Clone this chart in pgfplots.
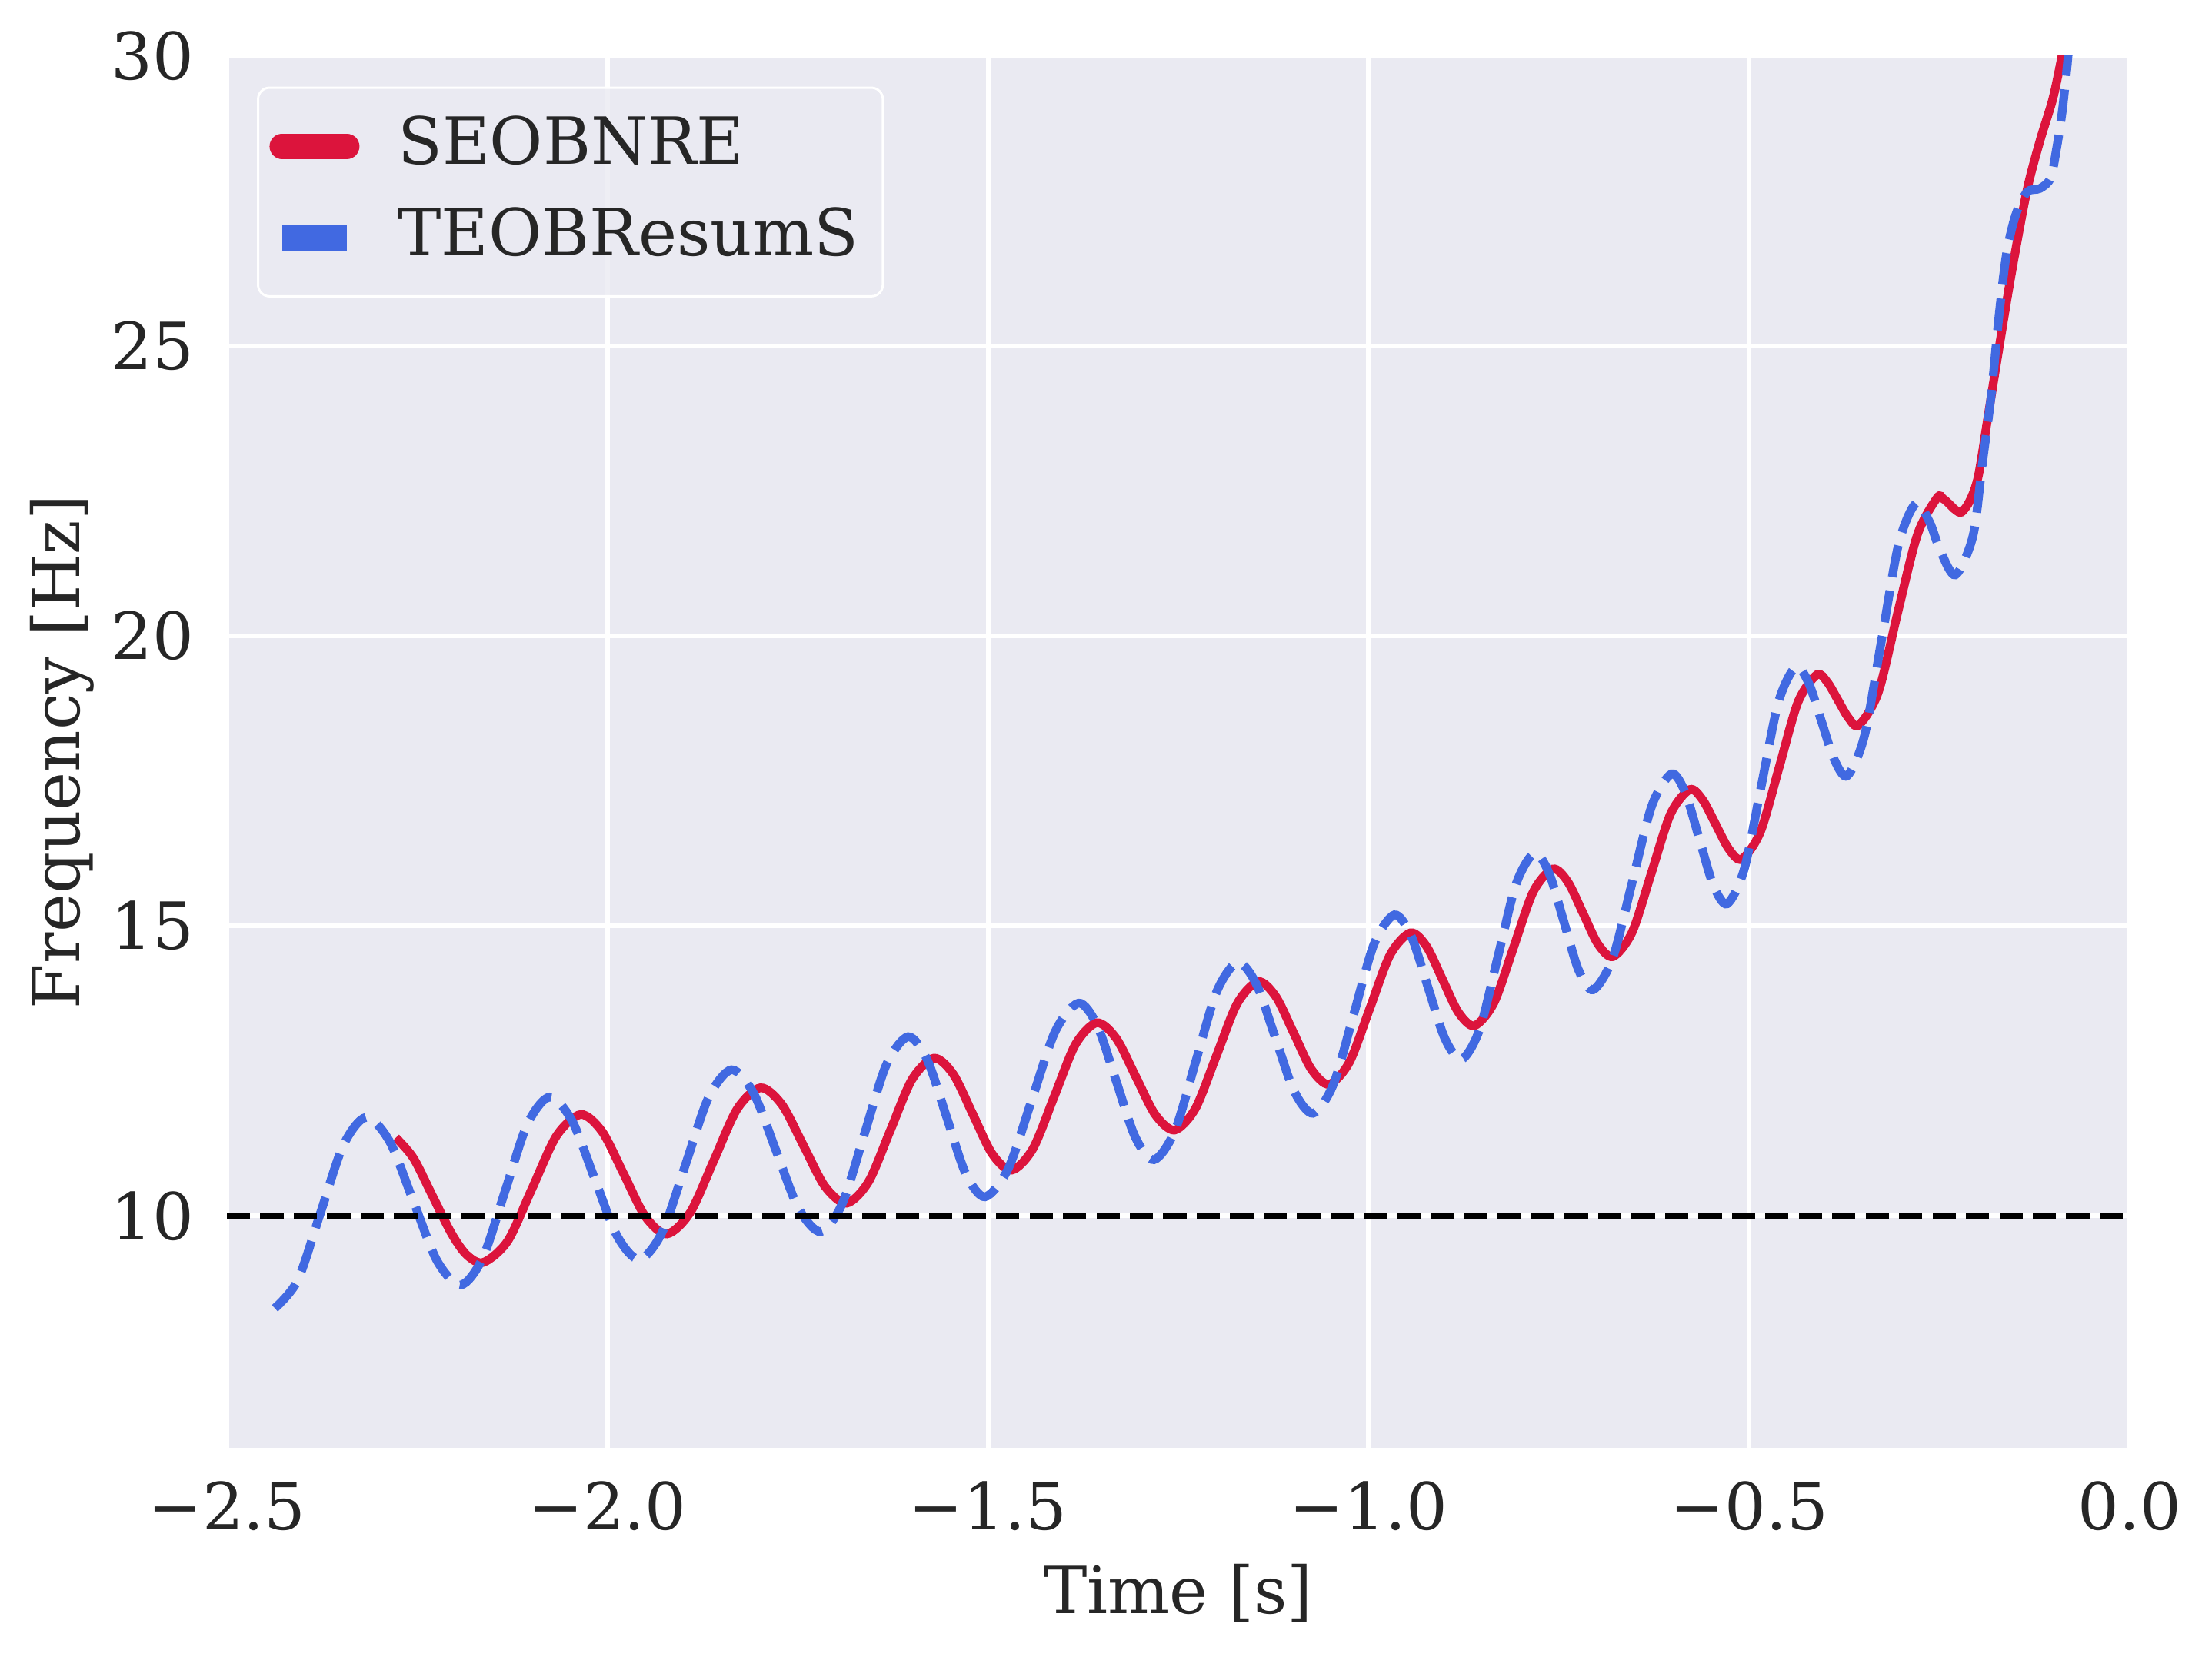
\documentclass[border=0pt]{standalone}
\usepackage{fontspec}
\setmainfont{DejaVu Serif}
\usepackage{pgfplots}
\pgfplotsset{compat=1.18}
\definecolor{bgc}{HTML}{EAEAF2}
\definecolor{txtc}{HTML}{262626}
\definecolor{seob}{HTML}{DC143C}
\definecolor{teob}{HTML}{4169E1}
\begin{document}
\fontsize{17}{20.4}\selectfont
\begin{tikzpicture}
\begin{axis}[
  name=ax,
  scale only axis,
  width=497.3pt, height=364.0pt,
  xmin=-2.5, xmax=0, ymin=6, ymax=30,
  xtick={-2.5,-2,-1.5,-1,-0.5,0},
  xticklabels={−2.5,−2.0,−1.5,−1.0,−0.5,0.0},
  ytick={10,15,20,25,30},
  yticklabels={10,15,20,25,30},
  axis background/.style={fill=bgc},
  axis line style={draw=none},
  major tick length=0pt,
  tick style={draw=none},
  grid=major,
  grid style={white, line width=1.2pt},
  every tick label/.append style={text=txtc, font=\fontsize{17}{20.4}\selectfont},
  xticklabel style={inner sep=0pt, anchor=north, yshift=-8.44pt},
  yticklabel style={inner sep=0pt, anchor=east, xshift=-8.4pt},
  xlabel={Time [s]}, ylabel={Frequency [Hz]},
  label style={text=txtc, font=\fontsize{17}{20.4}\selectfont, inner sep=0pt},
  xlabel style={at={(axis description cs:0.5,-0.1187)}, anchor=base},
  ylabel style={at={(axis description cs:-0.0774,0.5)}, anchor=base},
  legend cell align=left,
  legend style={
    at={(axis description cs:0.01577,0.9778)}, anchor=north west,
    fill=bgc, fill opacity=0.8, text opacity=1, draw=white, line width=0.6pt,
    rounded corners=3pt,
    inner xsep=6.3pt, inner ysep=7.3pt,
    font=\fontsize{17}{20.4}\selectfont, text=txtc,
    nodes={inner sep=0pt, text depth=3.4pt},
    row sep=7.9pt,
    /tikz/every odd column/.append style={column sep=13.3pt},
  },
]
\addplot[seob, line width=2.26pt, smooth,
  legend image code/.code={\draw[overlay, sharp corners, seob, line width=6.6pt, line cap=round, solid, draw opacity=1] (0pt,0pt) -- (16.9pt,0pt); \path[draw=none, fill=none] (0pt,-0.5pt) rectangle (16.9pt,0.5pt);}]
coordinates {
(-2.278,11.35) (-2.255,11.00) (-2.230,10.35) (-2.205,9.70) (-2.185,9.33) (-2.163,9.20)
(-2.131,9.57) (-2.099,10.475) (-2.067,11.38) (-2.035,11.75)
(-2.0068,11.45) (-1.9785,10.72) (-1.9503,9.99) (-1.922,9.69)
(-1.8913,10.06) (-1.8605,10.95) (-1.8298,11.84) (-1.799,12.21)
(-1.7708,11.92) (-1.7425,11.215) (-1.7143,10.51) (-1.686,10.22)
(-1.657,10.59) (-1.6285,11.47) (-1.600,12.35) (-1.571,12.72)
(-1.5455,12.44) (-1.520,11.755) (-1.4945,11.07) (-1.469,10.79)
(-1.441,11.16) (-1.413,12.06) (-1.385,12.96) (-1.357,13.33)
(-1.3315,13.06) (-1.306,12.405) (-1.2805,11.75) (-1.255,11.48)
(-1.2275,11.855) (-1.200,12.76) (-1.1725,13.665) (-1.145,14.04)
(-1.1218,13.78) (-1.0985,13.155) (-1.0753,12.53) (-1.052,12.27)
(-1.0253,12.65) (-0.9985,13.575) (-0.9718,14.50) (-0.945,14.88)
(-0.924,14.65) (-0.903,14.08) (-0.882,13.51) (-0.861,13.28)
(-0.8353,13.675) (-0.8095,14.63) (-0.7838,15.585) (-0.758,15.98)
(-0.7383,15.76) (-0.7185,15.225) (-0.6988,14.69) (-0.679,14.47)
(-0.6538,14.89) (-0.6285,15.91) (-0.6033,16.93) (-0.578,17.35)
(-0.561,17.17) (-0.544,16.75) (-0.527,16.33) (-0.510,16.15)
(-0.4853,16.62) (-0.4605,17.74) (-0.4358,18.86) (-0.411,19.33)
(-0.3973,19.20) (-0.3835,18.895) (-0.3698,18.59) (-0.356,18.46)
(-0.3303,19.03) (-0.3045,20.42) (-0.2788,21.75) (-0.253,22.38)
(-0.245,22.36) (-0.237,22.27) (-0.229,22.17) (-0.221,22.13)
(-0.210,22.33) (-0.199,22.75) (-0.186,23.80) (-0.172,24.94) (-0.155,26.28)
(-0.135,27.68) (-0.118,28.53) (-0.101,29.26) (-0.089,30.0) (-0.080,30.6)
};
\addlegendentry{SEOBNRE}
\addplot[teob, line width=2.26pt, smooth, dash pattern=on 8.37pt off 3.62pt,
  legend image code/.code={\fill[overlay, sharp corners, teob, draw=none, fill opacity=1] (0pt,-3.3pt) rectangle (16.9pt,3.3pt); \path[draw=none, fill=none] (0pt,-0.5pt) rectangle (16.9pt,0.5pt);}]
coordinates {
(-2.437,8.41) (-2.407,8.89) (-2.377,10.055) (-2.347,11.22) (-2.317,11.70)
(-2.286,11.28) (-2.255,10.255) (-2.224,9.23) (-2.193,8.81)
(-2.1638,9.28) (-2.1345,10.43) (-2.1053,11.58) (-2.076,12.05)
(-2.0465,11.64) (-2.017,10.65) (-1.9875,9.66) (-1.958,9.25)
(-1.9278,9.73) (-1.8975,10.885) (-1.8673,12.04) (-1.837,12.52)
(-1.8078,12.11) (-1.7785,11.125) (-1.7493,10.14) (-1.720,9.73)
(-1.6913,10.22) (-1.6625,11.41) (-1.6338,12.60) (-1.605,13.09)
(-1.5798,12.69) (-1.5545,11.71) (-1.5293,10.73) (-1.504,10.33)
(-1.4733,10.82) (-1.4425,12.00) (-1.4118,13.18) (-1.381,13.67)
(-1.3563,13.275) (-1.3315,12.32) (-1.3068,11.365) (-1.282,10.97)
(-1.2545,11.47) (-1.227,12.67) (-1.1995,13.87) (-1.172,14.37)
(-1.1473,13.99) (-1.1225,13.07) (-1.0978,12.15) (-1.073,11.77)
(-1.0463,12.27) (-1.0195,13.48) (-0.9928,14.69) (-0.966,15.19)
(-0.944,14.825) (-0.922,13.945) (-0.900,13.065) (-0.878,12.70)
(-0.854,13.22) (-0.830,14.475) (-0.806,15.73) (-0.782,16.25)
(-0.7628,15.905) (-0.7435,15.075) (-0.7243,14.245) (-0.705,13.90)
(-0.6793,14.445) (-0.6535,15.76) (-0.6278,17.075) (-0.602,17.62)
(-0.5838,17.29) (-0.5655,16.50) (-0.5473,15.71) (-0.529,15.38)
(-0.5065,15.98) (-0.484,17.42) (-0.4615,18.86) (-0.439,19.46)
(-0.422,19.19) (-0.405,18.525) (-0.388,17.86) (-0.371,17.59)
(-0.3485,18.28) (-0.326,19.935) (-0.3035,21.59) (-0.281,22.28)
(-0.263,21.96) (-0.249,21.47) (-0.229,21.05) (-0.206,21.72) (-0.194,22.93)
(-0.182,24.15) (-0.172,25.49) (-0.162,26.58) (-0.150,27.25) (-0.135,27.65)
(-0.118,27.71) (-0.104,27.89) (-0.096,28.41) (-0.089,29.01) (-0.084,29.6)
(-0.081,30.0) (-0.078,30.5)
};
\addlegendentry{TEOBResumS}
\addplot[black, line width=1.65pt, dash pattern=on 6.1pt off 2.64pt, forget plot]
coordinates {(-2.5,10) (0,10)};
\end{axis}
\pgfresetboundingbox
\path ([xshift=-59.3pt,yshift=-54.5pt]ax.south west) rectangle ([xshift=21.5pt,yshift=14.55pt]ax.north east);
\end{tikzpicture}
\end{document}
